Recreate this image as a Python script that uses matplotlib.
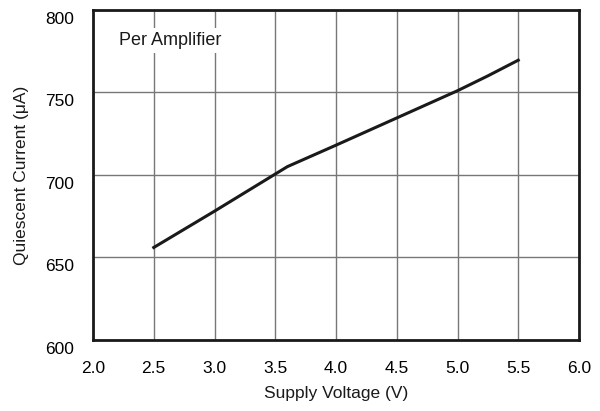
import matplotlib
matplotlib.use("Agg")
import matplotlib.pyplot as plt
from matplotlib.transforms import ScaledTranslation

# Supply voltage (V) vs quiescent current (uA)
voltage = [2.5, 3.0, 3.5, 3.6, 4.0, 4.5, 5.0, 5.25, 5.5]
current = [656, 678, 700.5, 705, 718, 734.5, 751, 760, 769.5]

x_ticks = [2.0, 2.5, 3.0, 3.5, 4.0, 4.5, 5.0, 5.5, 6.0]
y_ticks = [600, 650, 700, 750, 800]

plt.rcParams['font.family'] = ['Liberation Sans', 'DejaVu Sans']
FS = 12.5

fig = plt.figure(figsize=(6.0, 4.11), dpi=100)
ax = fig.add_axes([0.155, 0.173, 0.81, 0.803])

ax.plot(voltage, current, color='#1a1a1a', linewidth=2.2, zorder=3)

ax.set_xlim(2.0, 6.0)
ax.set_ylim(600, 800)
ax.set_xticks(x_ticks)
ax.set_yticks(y_ticks)
ax.set_xticklabels([f"{v:.1f}" for v in x_ticks])
ax.grid(True, color='#777777', linewidth=1.0)
ax.tick_params(length=0, labelsize=FS)
ax.tick_params(axis='x', pad=15)
ax.tick_params(axis='y', pad=13.5)

# y tick labels sit a little below their grid lines in the original
shift = ScaledTranslation(0, -5.5 / 72, fig.dpi_scale_trans)
for lbl in ax.get_yticklabels():
    lbl.set_transform(lbl.get_transform() + shift)

for sp in ax.spines.values():
    sp.set_linewidth(2.0)
    sp.set_color('#1a1a1a')

ax.text(2.214, 778.8, "Per Amplifier", fontsize=13, va='baseline', ha='left',
        color='#1a1a1a',
        bbox=dict(facecolor='white', edgecolor='none', pad=3), zorder=4)

ax.set_xlabel("Supply Voltage (V)", fontsize=FS, labelpad=7.5, color='#1a1a1a')
ax.set_ylabel("Quiescent Current (\u03bcA)", fontsize=FS, labelpad=12, color='#1a1a1a')

fig.savefig("out.png", dpi=100)
